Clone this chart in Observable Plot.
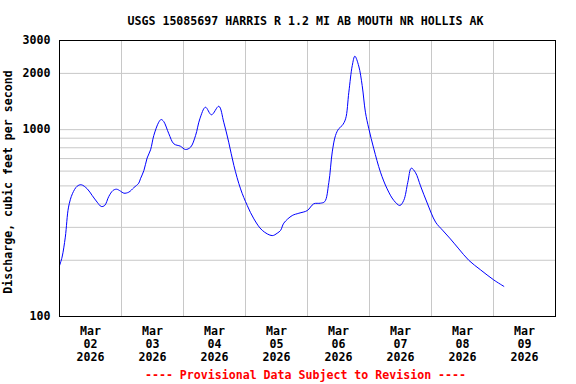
<!DOCTYPE html>
<html><head><meta charset="utf-8">
<script src="https://cdn.jsdelivr.net/npm/d3@7"></script>
<script src="https://cdn.jsdelivr.net/npm/@observablehq/plot@0.6"></script>
<style>
html,body{margin:0;padding:0;background:#fff}
svg{display:block}
</style></head><body><div id="chart"></div>
<script>
const title = "USGS 15085697 HARRIS R 1.2 MI AB MOUTH NR HOLLIS AK";
const yLabel = "Discharge, cubic feet per second";
const footer = "---- Provisional Data Subject to Revision ----";

const times = [
  "2026-03-02T00:00","2026-03-02T01:00","2026-03-02T02:15","2026-03-02T03:30","2026-03-02T05:00",
  "2026-03-02T06:50","2026-03-02T08:25","2026-03-02T10:45","2026-03-02T12:40","2026-03-02T14:35",
  "2026-03-02T16:10","2026-03-02T17:30","2026-03-02T19:05","2026-03-02T20:40","2026-03-02T22:05",
  "2026-03-02T23:35","2026-03-03T00:55","2026-03-03T02:50","2026-03-03T04:45","2026-03-03T06:40",
  "2026-03-03T07:20","2026-03-03T08:40","2026-03-03T09:55","2026-03-03T11:15","2026-03-03T12:30",
  "2026-03-03T14:25","2026-03-03T15:20","2026-03-03T16:20","2026-03-03T18:20","2026-03-03T20:15",
  "2026-03-03T22:50","2026-03-04T00:45","2026-03-04T02:45","2026-03-04T04:40","2026-03-04T06:20",
  "2026-03-04T08:30","2026-03-04T10:50","2026-03-04T13:40","2026-03-04T15:35","2026-03-04T17:30",
  "2026-03-04T19:30","2026-03-04T22:05","2026-03-05T00:40","2026-03-05T03:15","2026-03-05T06:30",
  "2026-03-05T10:20","2026-03-05T12:15","2026-03-05T13:35","2026-03-05T14:50","2026-03-05T18:05",
  "2026-03-05T20:40","2026-03-05T23:55","2026-03-06T02:25","2026-03-06T05:00","2026-03-06T06:40",
  "2026-03-06T08:15","2026-03-06T09:35","2026-03-06T10:50","2026-03-06T12:05","2026-03-06T13:25",
  "2026-03-06T14:45","2026-03-06T16:00","2026-03-06T17:20","2026-03-06T18:20","2026-03-06T19:50",
  "2026-03-06T21:10","2026-03-06T22:25","2026-03-06T23:45","2026-03-07T01:40","2026-03-07T04:15",
  "2026-03-07T06:50","2026-03-07T09:25","2026-03-07T11:45","2026-03-07T13:15","2026-03-07T14:50",
  "2026-03-07T16:10","2026-03-07T17:50","2026-03-07T19:45","2026-03-07T22:20","2026-03-08T01:35",
  "2026-03-08T04:15","2026-03-08T07:20","2026-03-08T10:35","2026-03-08T14:25","2026-03-08T18:55",
  "2026-03-09T00:05","2026-03-09T04:00"
];
const discharge = [
  187,208,266,385,454,
  498,507,482,444,409,
  388,393,439,472,480,
  469,457,463,489,517,
  546,604,705,780,930,
  1096,1133,1106,950,840,
  815,783,806,930,1143,
  1318,1201,1334,1096,857,
  643,482,393,333,289,
  271,279,289,316,347,
  357,369,401,404,412,
  520,760,930,1011,1052,
  1143,1586,2204,2472,2190,
  1723,1240,1011,790,592,
  482,418,393,418,523,
  622,588,500,405,320,
  290,260,230,200,178,
  157,145
];

const dayTicks = ["2026-03-02T12:00","2026-03-03T12:00","2026-03-04T12:00","2026-03-05T12:00",
  "2026-03-06T12:00","2026-03-07T12:00","2026-03-08T12:00","2026-03-09T12:00"];
const dayGrid = ["2026-03-03T00:00","2026-03-04T00:00","2026-03-05T00:00","2026-03-06T00:00",
  "2026-03-07T00:00","2026-03-08T00:00","2026-03-09T00:00"];
const yTicks = [100, 1000, 2000, 3000];
const yGrid = [200, 300, 400, 500, 600, 700, 800, 900, 1000, 2000];
const xStart = "2026-03-02T00:00", xEnd = "2026-03-10T00:00";

const utc = s => new Date(s + "Z");
const data = times.map((t, i) => ({t: utc(t), v: discharge[i]}));
const fmt = d3.utcFormat("%b\n%d\n%Y");
const font = "'DejaVu Sans Mono', monospace";

const chart = Plot.plot({
  width: 576, height: 384,
  marginLeft: 59, marginRight: 21, marginTop: 40, marginBottom: 68,
  style: {fontFamily: font, fontSize: "11.6px", fontWeight: "bold", background: "#fff", color: "#000", overflow: "visible"},
  x: {type: "utc", domain: [utc(xStart), utc(xEnd)]},
  y: {type: "log", domain: [100, 3000]},
  marks: [
    Plot.ruleY(yGrid, {stroke: "#c8c8c8"}),
    Plot.ruleX(dayGrid.map(utc), {stroke: "#c8c8c8"}),
    Plot.lineY(data, {x: "t", y: "v", stroke: "#0000ff", strokeWidth: 1, curve: "catmull-rom"}),
    Plot.frame({stroke: "#000"}),
    Plot.axisY(yTicks, {tickSize: 0, tickPadding: 9, tickFormat: d => String(d), label: null}),
    Plot.axisX(dayTicks.map(utc), {tickSize: 0, tickPadding: 9, tickFormat: fmt, label: null, lineHeight: 1.12})
  ]
});
document.getElementById("chart").appendChild(chart);

const svg = d3.select(chart);
svg.append("text").attr("x", 305.5).attr("y", 24.5).attr("text-anchor", "middle")
  .attr("fill", "#000").text(title);
svg.append("text").attr("x", 305.5).attr("y", 379).attr("text-anchor", "middle")
  .attr("fill", "#ff0000").text(footer);
svg.append("text").attr("transform", "translate(12,182) rotate(-90)").attr("text-anchor", "middle")
  .attr("fill", "#000").text(yLabel);
</script>
</body></html>
